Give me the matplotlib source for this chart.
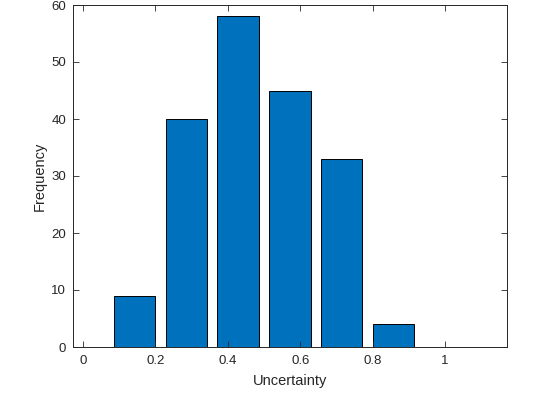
import matplotlib
matplotlib.use("Agg")
import matplotlib.pyplot as plt

plt.rcParams['font.family'] = ['Liberation Sans', 'DejaVu Sans']

bin_centers = [1/7, 2/7, 3/7, 4/7, 5/7, 6/7]
counts = [9, 40, 58, 45, 33, 4]
x_ticks = [0, 0.2, 0.4, 0.6, 0.8, 1]
x_ticklabels = ['0', '0.2', '0.4', '0.6', '0.8', '1']
y_ticks = [0, 10, 20, 30, 40, 50, 60]

fig = plt.figure(figsize=(5.6, 3.94), dpi=100)
ax = fig.add_axes([73/560, 47/394, 434/560, 342/394])

ax.bar(bin_centers, counts, width=0.8/7, color='#0072BD', edgecolor='black', linewidth=0.7)

ax.set_xlim(-0.0276, 1.171)
ax.set_ylim(0, 60)
ax.set_xticks(x_ticks)
ax.set_xticklabels(x_ticklabels)
ax.set_yticks(y_ticks)

ax.tick_params(direction='in', top=True, right=True, length=4, width=0.6,
               labelsize=9.5, labelcolor='#262626', color='#262626')
ax.tick_params(axis='x', pad=6)
ax.tick_params(axis='y', pad=5)
for s in ax.spines.values():
    s.set_linewidth(0.7)
    s.set_color('#262626')

ax.set_xlabel('Uncertainty', fontsize=10.5, color='#262626', labelpad=5)
ax.set_ylabel('Frequency', fontsize=10.5, color='#262626', labelpad=3)

fig.savefig('out.png', dpi=100)
